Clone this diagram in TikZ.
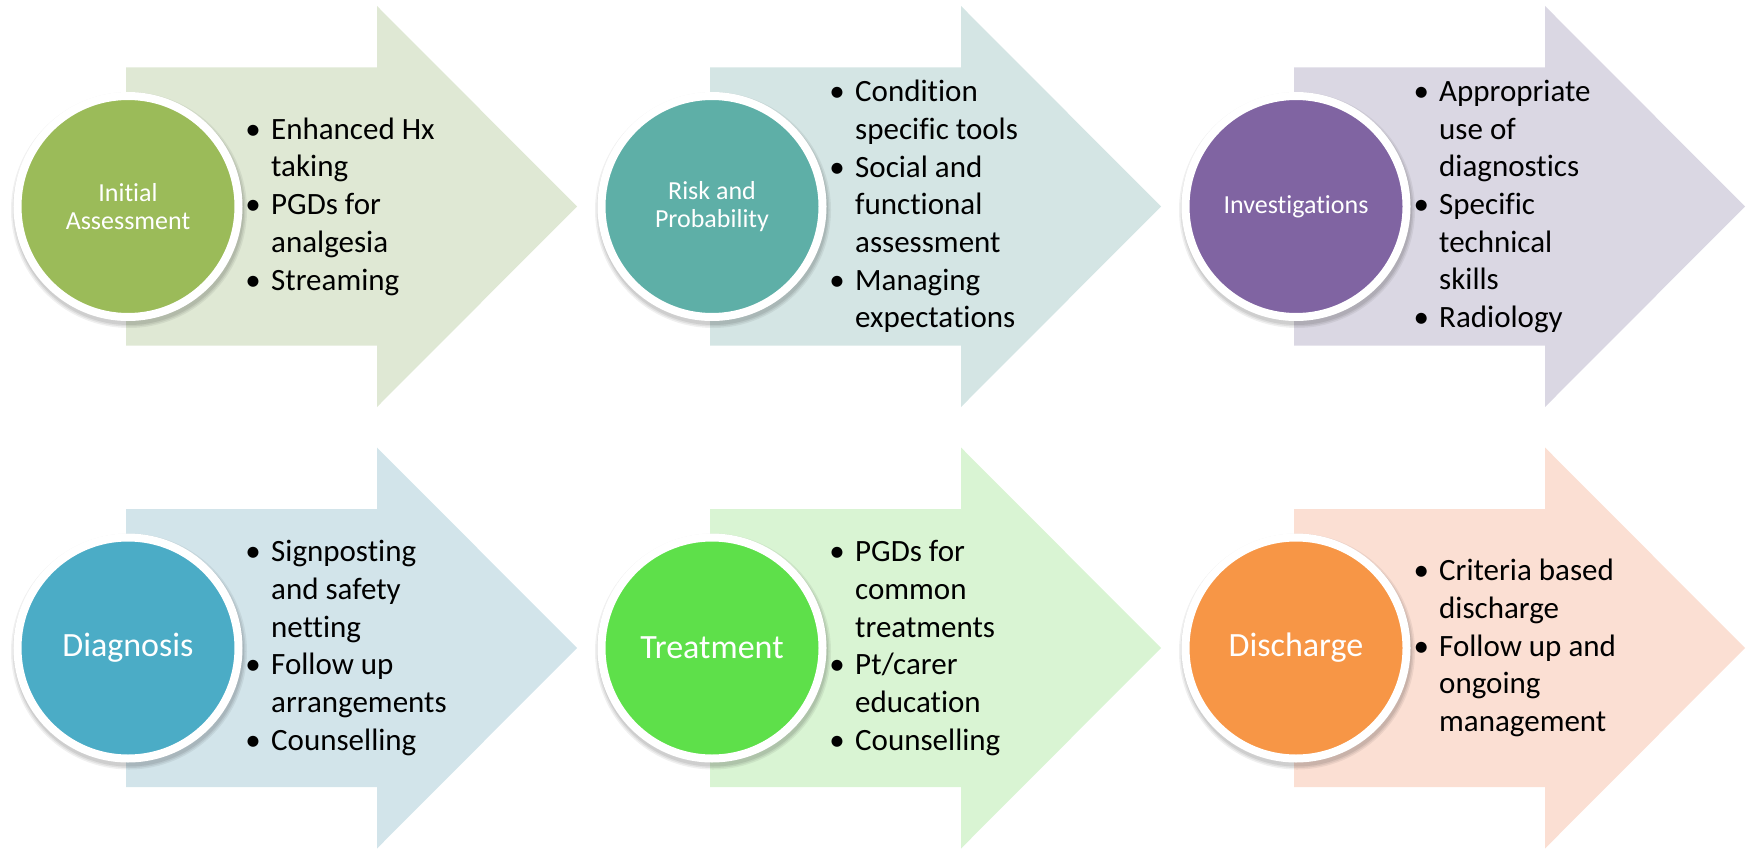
\documentclass[tikz,border=0pt]{standalone}
\usepackage{fontspec}
\setmainfont{Carlito}[Ligatures=NoCommon]
\usepackage{tikz}
\usetikzlibrary{positioning}

\definecolor{arrowgreen}{HTML}{DFE8D4}
\definecolor{arrowteal}{HTML}{D4E5E4}
\definecolor{arrowlilac}{HTML}{DAD7E3}
\definecolor{arrowblue}{HTML}{D2E4EA}
\definecolor{arrowlime}{HTML}{D9F4D3}
\definecolor{arrowpeach}{HTML}{FBDFD3}
\definecolor{olive}{HTML}{9BBB59}
\definecolor{teal}{HTML}{5EAFA7}
\definecolor{purple}{HTML}{8064A2}
\definecolor{aqua}{HTML}{4BACC6}
\definecolor{lime}{HTML}{5EE04A}
\definecolor{orange}{HTML}{F79646}

\newcommand{\bul}{\makebox[0pt][c]{\textbullet}\hspace*{18pt}}
\newcommand{\ind}{\hspace*{18pt}}

\tikzset{
  stagecircle/.style={circle, draw=white, line width=8pt, minimum size=221pt, inner sep=0pt,
    text=white, align=center},
  smalllabel/.style={font=\fontsize{26pt}{28.3pt}\selectfont},
  biglabel/.style={font=\fontsize{34pt}{40pt}\selectfont},
  stagelist/.style={inner sep=0pt, align=left, font=\fontsize{31pt}{37.7pt}\selectfont}
}

\begin{document}
\begin{tikzpicture}[x=1pt, y=-1pt]
    \useasboundingbox (0,0) rectangle (1752,848);

    % Arrows
    \foreach \ax/\ay/\col in {126/206.5/arrowgreen, 710/206.5/arrowteal, 1294/206.5/arrowlilac,
                              126/648/arrowblue, 710/648/arrowlime, 1294/648/arrowpeach}
        \fill[\col] (\ax,\ay-139) -- ++(251,0) -- ++(0,-61.5) -- ++(200,200.5)
            -- ++(-200,200.5) -- ++(0,-61.5) -- ++(-251,0) -- cycle;

    % Soft shadows under the circles
    \foreach \cx/\cy in {128/206.5, 712/206.5, 1296/206.5, 128/648, 712/648, 1296/648} {
        \fill[black, opacity=0.06] (\cx+1,\cy+3.5) circle (118pt);
        \fill[black, opacity=0.07] (\cx+1,\cy+3.5) circle (116.5pt);
        \fill[black, opacity=0.08] (\cx+1,\cy+3.5) circle (115pt);
    }

    % Top row
    \node[stagecircle, smalllabel, fill=olive] (assess) at (128,206.5) {Initial\\Assessment};
    \node[stagecircle, smalllabel, fill=teal] (risk) at (712,206.5) {Risk and\\Probability};
    \node[stagecircle, smalllabel, fill=purple] (invest) at (1296,206.5) {Investigations};

    \node[stagelist, right=125pt of assess.center] (assesslist)
        {\bul Enhanced Hx\\ \ind taking\\ \bul PGDs for\\ \ind analgesia\\ \bul Streaming};
    \node[stagelist, right=125pt of risk.center] (risklist)
        {\bul Condition\\ \ind specific tools\\ \bul Social and\\ \ind functional\\ \ind assessment\\
         \bul Managing\\ \ind expectations};
    \node[stagelist, right=125pt of invest.center] (investlist)
        {\bul Appropriate\\ \ind use of\\ \ind diagnostics\\ \bul Specific\\ \ind technical\\ \ind skills\\
         \bul Radiology};

    % Bottom row
    \node[stagecircle, biglabel, fill=aqua] (diag) at (128,648) {Diagnosis};
    \node[stagecircle, biglabel, fill=lime] (treat) at (712,648) {Treatment};
    \node[stagecircle, biglabel, fill=orange] (disch) at (1296,648) {Discharge};

    \node[stagelist, right=125pt of diag.center] (diaglist)
        {\bul Signposting\\ \ind and safety\\ \ind netting\\ \bul Follow up\\ \ind arrangements\\ \bul Counselling};
    \node[stagelist, right=125pt of treat.center] (treatlist)
        {\bul PGDs for\\ \ind common\\ \ind treatments\\ \bul Pt/carer\\ \ind education\\ \bul Counselling};
    \node[stagelist, right=125pt of disch.center] (dischlist)
        {\bul Criteria based\\ \ind discharge\\ \bul Follow up and\\ \ind ongoing\\ \ind management};
\end{tikzpicture}
\end{document}
